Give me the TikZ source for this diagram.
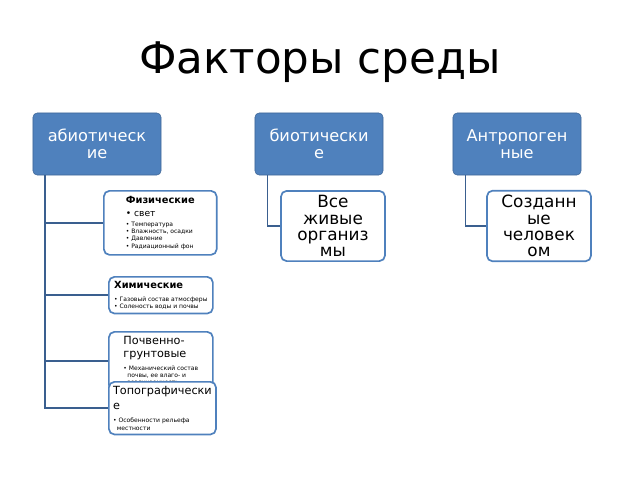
\documentclass[tikz,border=0pt]{standalone}
\usepackage{fontspec}
\setmainfont{DejaVu Sans}
\usetikzlibrary{positioning}
\definecolor{hdrblue}{HTML}{4F81BD}
\definecolor{linkblue}{HTML}{3A5F8F}
\tikzstyle{header} = [rectangle, rounded corners=3pt, fill=hdrblue, draw=hdrblue!80!black, text=white, align=center, minimum width=3.2cm, minimum height=1.55cm, font=\fontsize{11.5}{12}\selectfont]
\tikzstyle{leaf} = [rectangle, rounded corners=4pt, draw=hdrblue, line width=1.2pt, fill=white, align=center, minimum width=2.6cm, minimum height=1.6cm, font=\fontsize{12}{11.5}\selectfont]
\tikzstyle{note} = [rectangle, rounded corners=4pt, draw=hdrblue, line width=1.2pt, fill=white, align=left, minimum width=2.6cm, inner sep=3pt, anchor=north west, font=\fontsize{4.3}{5.2}\selectfont]
\tikzstyle{link} = [linkblue, line width=1pt]
\newcommand{\headb}[1]{{\fontsize{7}{8}\selectfont\bfseries #1}}
\newcommand{\headr}[1]{{\fontsize{8}{8.5}\selectfont #1}}
\begin{document}
\begin{tikzpicture}[x=0.025cm, y=-0.025cm]
    \useasboundingbox (0,0) rectangle (640,480);

    % Title
    \node (title) at (320,62) {\fontsize{31}{34}\selectfont Факторы среды};

    % Headers
    \node (abio) [header] at (97,144) {абиотическ\\ие};
    \node (bio) [header] at (319,144) {биотически\\е};
    \node (anthro) [header] at (517,144) {Антропоген\\ные};

    % Abiotic children
    \node (phys) [note, minimum height=1.6cm, minimum width=2.82cm] at (103,190) {\headb{Физические}\\[4pt]
        {\fontsize{6.5}{7}\selectfont • свет}\\[2pt]
        • Температура\\ • Влажность, осадки\\ • Давление\\ • Радиационный фон};
    \node (chem) [note, minimum height=0.9cm] at (108,276) {\headb{Химические}\\[4pt]
        • Газовый состав атмосферы\\ • Соленость воды и почвы};
    \node (soil) [note, minimum height=1.05cm] at (108,331) {\headr{Почвенно-}\\[4pt]\headr{грунтовые}\\[4pt]
        • Механический состав\\ \ \ почвы, ее влаго- и\\ \ \ воздухоемкость};
    \node (topo) [note, minimum height=0.95cm] at (108,381) {\headr{Топографически}\\[4pt]\headr{е}\\[4pt]
        • Особенности рельефа\\ \ \ местности};

    % Other children
    \node (alive) [leaf] at (333,226) {Все\\живые\\организ\\мы};
    \node (made) [leaf] at (539,226) {Созданн\\ые\\человек\\ом};

    % Connectors
    \coordinate (abiotrunk) at (45,175);
    \draw [link] (abiotrunk) |- (phys.west);
    \draw [link] (abiotrunk) |- (chem.west);
    \draw [link] (abiotrunk) |- (soil.west);
    \draw [link] (abiotrunk) |- (topo.west);
    \draw [link] (bio.south west) ++(13,0) |- (alive.west);
    \draw [link] (anthro.south west) ++(13,0) |- (made.west);
\end{tikzpicture}
\end{document}
